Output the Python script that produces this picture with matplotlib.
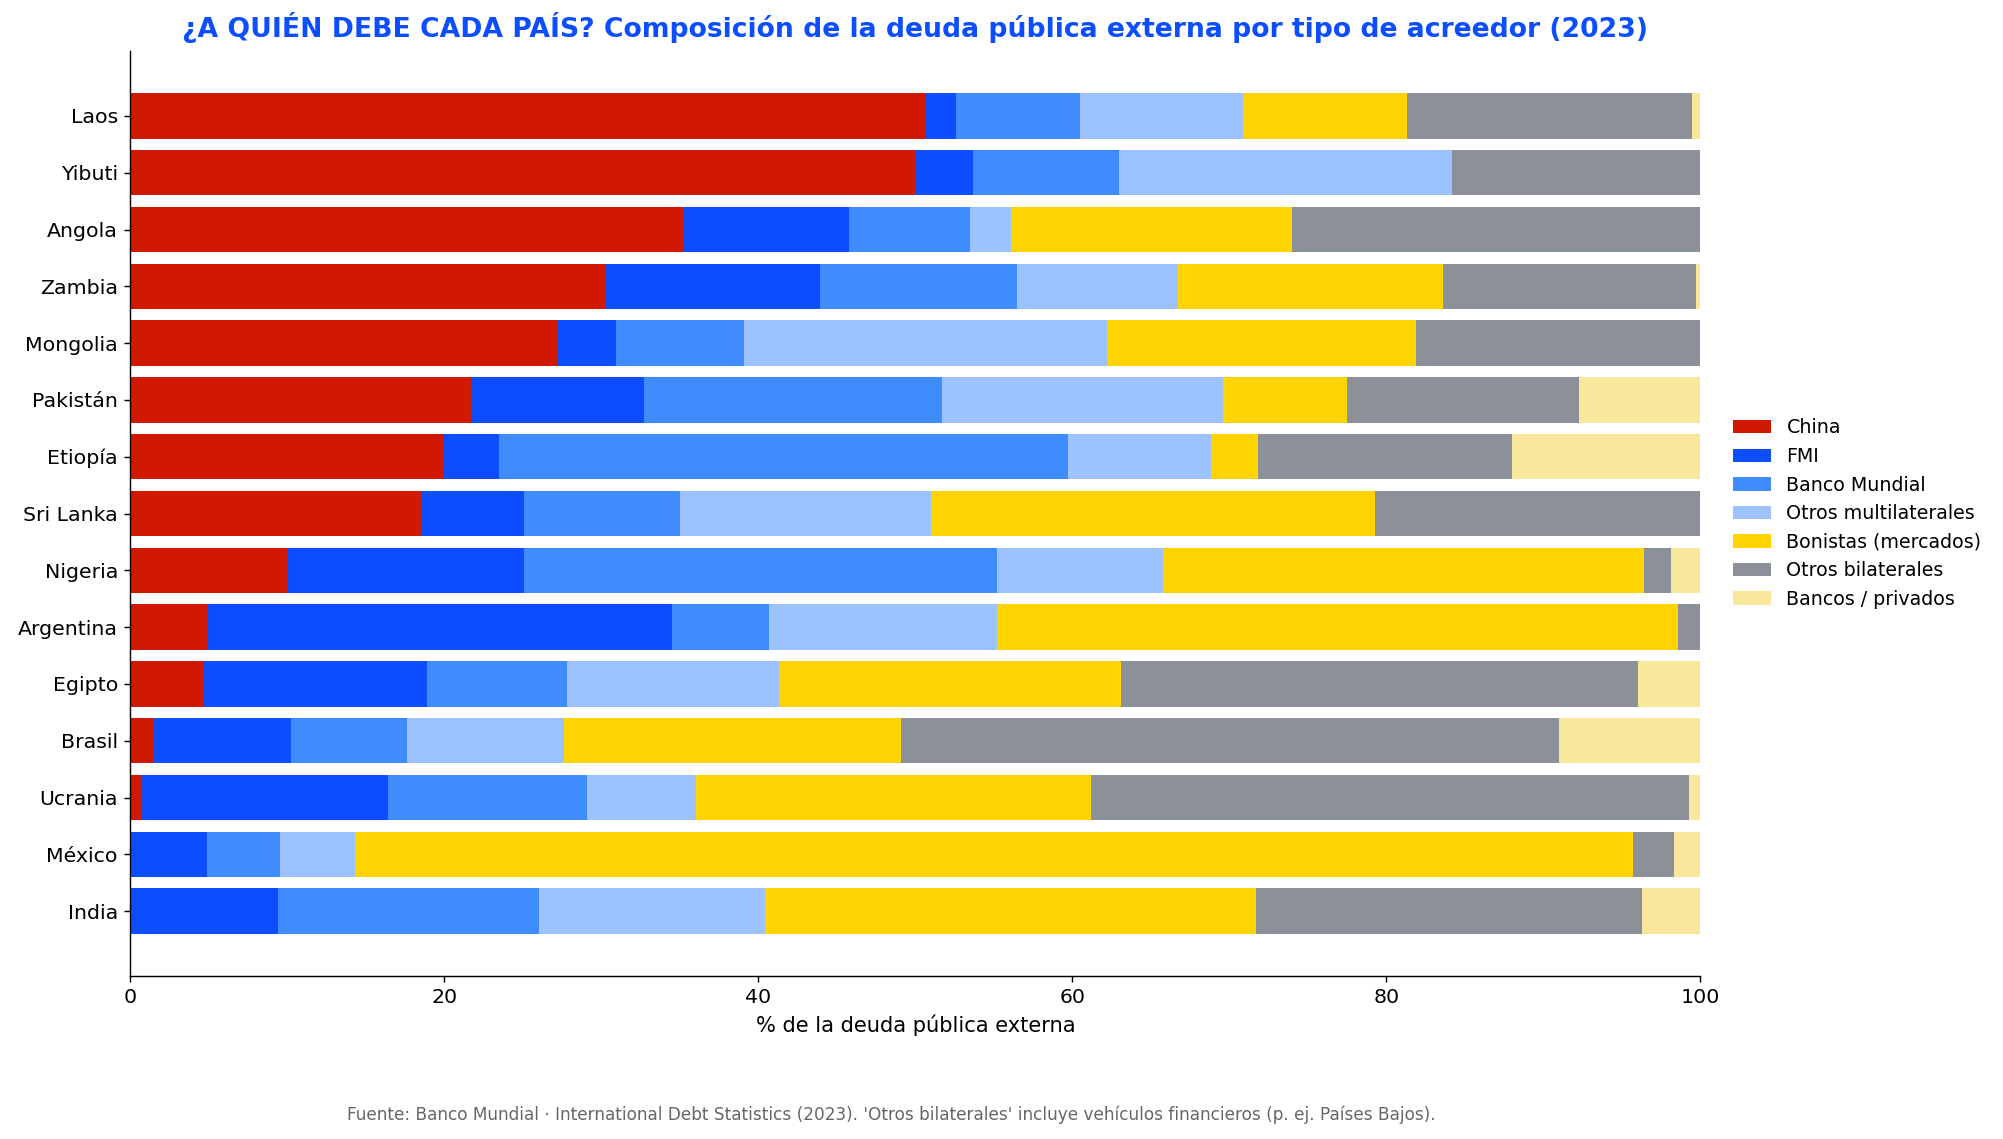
import matplotlib
matplotlib.use("Agg")
import matplotlib.pyplot as plt
import numpy as np

####

paises = ["Laos", "Yibuti", "Angola", "Zambia", "Mongolia", "Pakistán",
          "Etiopía", "Sri Lanka", "Nigeria", "Argentina", "Egipto", "Brasil",
          "Ucrania", "México", "India"]

china      = [50.7, 50.0, 35.2, 30.2, 27.2, 21.7, 20.0, 18.6, 10.0,  4.9,  4.7,  1.5,  0.7,  0.0,  0.0]
fmi        = [ 1.9,  3.7, 10.6, 13.7,  3.7, 11.0,  3.5,  6.5, 15.1, 29.6, 14.2,  8.7, 15.7,  4.9,  9.4]
bm         = [ 7.9,  9.3,  7.7, 12.6,  8.2, 19.0, 36.2,  9.9, 30.1,  6.2,  8.9,  7.4, 12.7,  4.6, 16.6]
otros_mult = [10.4, 21.2,  2.6, 10.2, 23.1, 17.9,  9.1, 16.0, 10.6, 14.5, 13.5, 10.0,  6.9,  4.8, 14.4]
bonistas   = [10.4,  0.0, 17.9, 16.9, 19.7,  7.9,  3.0, 28.3, 30.6, 43.4, 21.8, 21.5, 25.2, 81.4, 31.3]
otros_bil  = [18.2, 15.8, 26.0, 16.1, 18.1, 14.8, 16.2, 20.7,  1.7,  1.4, 32.9, 41.9, 38.1,  2.6, 24.6]
bancos     = [ 0.5,  0.0,  0.0,  0.3,  0.0,  7.7, 12.0,  0.0,  1.9,  0.0,  4.0,  9.0,  0.7,  1.7,  3.7]

series = [
    ("China", china, "#d11800"),
    ("FMI", fmi, "#0b4dff"),
    ("Banco Mundial", bm, "#3f8cff"),
    ("Otros multilaterales", otros_mult, "#9cc2ff"),
    ("Bonistas (mercados)", bonistas, "#ffd400"),
    ("Otros bilaterales", otros_bil, "#8c9099"),
    ("Bancos / privados", bancos, "#f9e79b"),
]

########
#
fig = plt.figure(figsize=(2003 / 128., 1139 / 128.), dpi=128, facecolor='w')
ax = fig.add_subplot(1, 1, 1)
fig.subplots_adjust(left=0.0651, right=0.8489, top=0.9551, bottom=0.1432)

y = np.arange(len(paises))
left = np.zeros(len(paises))
for name, vals, col in series:
    ax.barh(y, vals, left=left, height=0.8, color=col, label=name)
    left += np.array(vals)

ax.set_yticks(y)
ax.set_yticklabels(paises, fontsize=11.5)
ax.invert_yaxis()
ax.set_xlim(0, 100)
ax.tick_params(axis='x', labelsize=11.5)
ax.set_xlabel("% de la deuda pública externa", fontsize=11.8)
ax.set_title("¿A QUIÉN DEBE CADA PAÍS? Composición de la deuda pública externa por tipo de acreedor (2023)",
             color="#0b4dff", fontsize=15.0, fontweight="bold", pad=8)

ax.spines['top'].set_visible(False)
ax.spines['right'].set_visible(False)

ax.legend(loc="center left", bbox_to_anchor=(1.01, 0.5), frameon=False,
          prop={'size': 10.7})

fig.text(0.445, 0.0212,
         "Fuente: Banco Mundial · International Debt Statistics (2023). "
         "'Otros bilaterales' incluye vehículos financieros (p. ej. Países Bajos).",
         ha="center", va="center", fontsize=9.5, color="#666666")

fig.savefig("out.png", dpi=128)
